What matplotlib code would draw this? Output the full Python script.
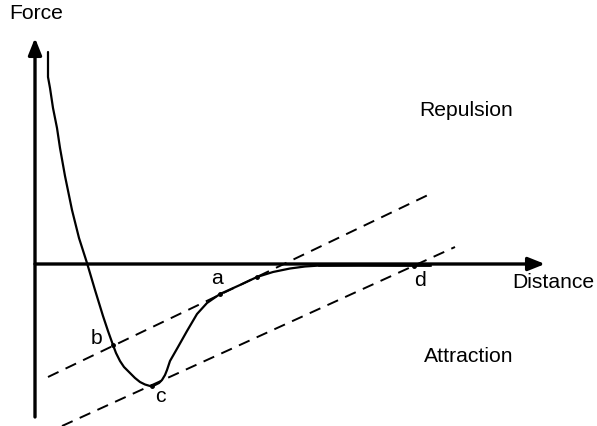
import matplotlib
matplotlib.use("Agg")
import matplotlib.pyplot as plt

plt.rcParams['font.family'] = ['Liberation Sans', 'DejaVu Sans']

# Force-distance curve (arbitrary units, origin at axis crossing)
distance = [13, 13, 15, 18, 22, 25, 30, 37, 44, 52, 60, 68, 73, 78, 81, 85,
            89, 95, 100, 105, 110, 115, 120, 124, 127, 130, 132, 135, 139, 143,
            152, 162, 172, 185, 205, 222, 238, 255, 270, 285, 325, 379, 395]
force = [212, 187, 176, 156, 136, 116, 88, 54, 26, 1, -26, -52, -67, -81, -89,
         -97, -103, -109, -114, -118, -120.5, -122, -121, -119, -116, -111,
         -106, -97, -90, -83, -67, -50, -39, -30, -21, -13, -8, -4.5, -2.5,
         -1.5, -1, -1.5, -1.5]

# Two dashed straight lines (end points)
upper_line_x = [13, 393]
upper_line_y = [-113, 69]
lower_line_x = [27, 420]
lower_line_y = [-162, 17]

# Marked points on the curve
point_names = ["a", "b", "c", "d"]
point_x = [185, 78, 117, 379]
point_y = [-30, -81, -122, -2]
extra_x = [222]
extra_y = [-13]

fig = plt.figure(figsize=(5.97, 4.26), dpi=100)
ax = fig.add_axes([0, 0, 1, 1])
ax.set_xlim(-35, 562)
ax.set_ylim(-162, 264)
ax.axis("off")

fs = 15.2

# Axes with arrow heads
arrow_kw = dict(arrowstyle="-|>,head_length=0.5,head_width=0.2", lw=2.4,
                color="black", mutation_scale=20, shrinkA=0, shrinkB=0)
ax.annotate("", xy=(0, 226), xytext=(0, -153), arrowprops=arrow_kw)
ax.annotate("", xy=(510, 0), xytext=(0, 0), arrowprops=arrow_kw)

# Dashed lines
ax.plot(upper_line_x, upper_line_y, color="black", lw=1.4, ls=(0, (6, 4)))
ax.plot(lower_line_x, lower_line_y, color="black", lw=1.4, ls=(0, (6, 4)))

# Curve
ax.plot(distance, force, color="black", lw=1.6, solid_joinstyle="round",
        solid_capstyle="round")
ax.plot([285, 395], [-0.8, -0.8], color="black", lw=2.6)

# Dots
ax.plot(point_x + extra_x, point_y + extra_y, "o", color="black", ms=2.5)

# Labels
offsets = {"a": (-3, 15), "b": (-16, 7), "c": (8, -11), "d": (6, -15)}
for n, x, y in zip(point_names, point_x, point_y):
    dx, dy = offsets[n]
    ax.text(x + dx, y + dy, n, fontsize=fs, ha="center", va="center")

ax.text(1, 241, "Force", fontsize=fs, ha="center", va="bottom")
ax.text(477, -9, "Distance", fontsize=fs, ha="left", va="top")
ax.text(384, 154, "Repulsion", fontsize=fs, ha="left", va="center")
ax.text(389, -93, "Attraction", fontsize=fs, ha="left", va="center")

fig.savefig("out.png", dpi=100)
